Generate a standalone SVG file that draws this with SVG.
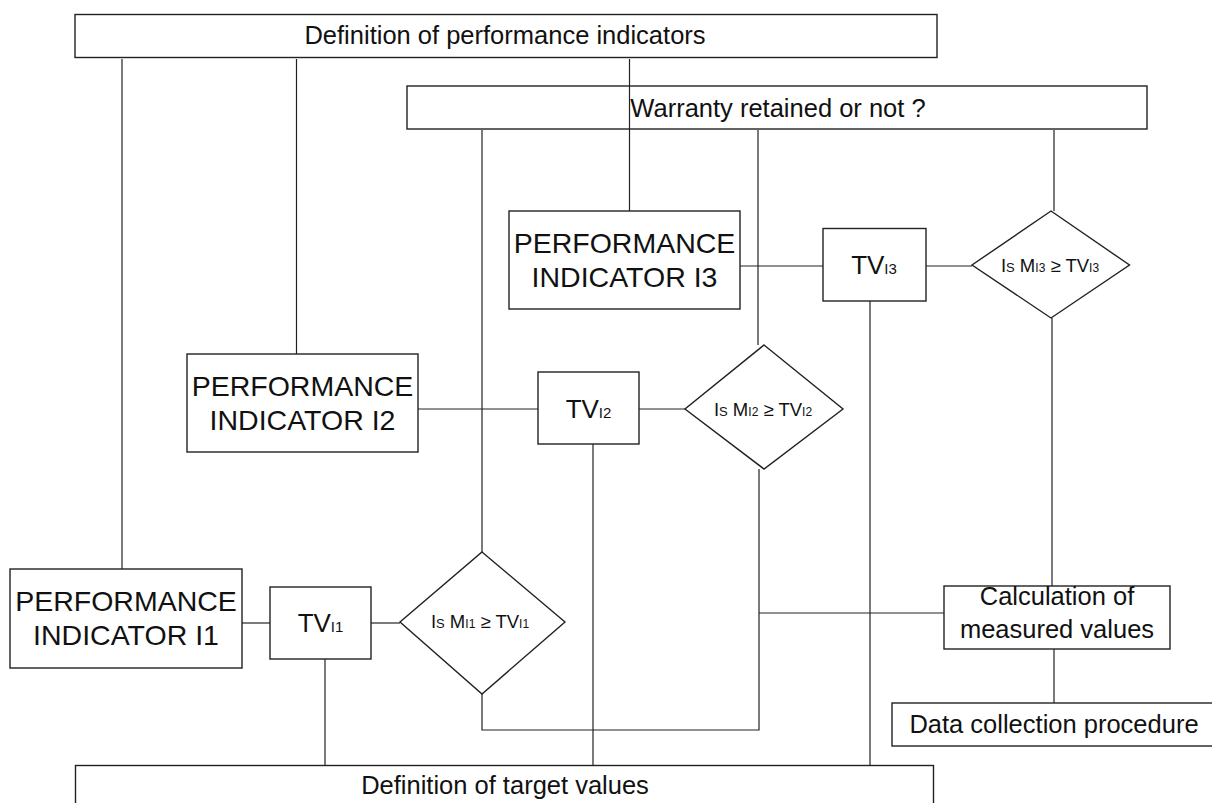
<svg xmlns="http://www.w3.org/2000/svg" width="1212" height="803" viewBox="0 0 1212 803">
<style>
.box{fill:#fff;stroke:#222;stroke-width:1.4}
.ln{fill:none;stroke:#222;stroke-width:1.2}
text{font-family:"Liberation Sans",Arial,sans-serif;fill:#111;text-anchor:middle}
.lbl{font-size:25.5px}
.pi{font-size:28.5px}
.tv{font-size:26px}
.sub{font-size:15px}
.dt{font-size:18.5px}
.ds{font-size:12px}
.sc{font-variant:small-caps}
</style>
<rect width="1212" height="803" fill="#fff"/>
<g id="connectors">
<path class="ln" d="M122,59V569"/>
<path class="ln" d="M296.5,59V354"/>
<path class="ln" d="M629.5,59V211"/>
<path class="ln" d="M482,130V552"/>
<path class="ln" d="M758,130V345"/>
<path class="ln" d="M1054,130V211"/>
<path class="ln" d="M740,266H823"/>
<path class="ln" d="M926,266H972"/>
<path class="ln" d="M870,301V766"/>
<path class="ln" d="M1052,318V586"/>
<path class="ln" d="M418,409H538"/>
<path class="ln" d="M639,409H685"/>
<path class="ln" d="M593,444V766"/>
<path class="ln" d="M759,469V730H482V694"/>
<path class="ln" d="M759,613H944"/>
<path class="ln" d="M242,623H270"/>
<path class="ln" d="M371,623H400"/>
<path class="ln" d="M325,659V766"/>
<path class="ln" d="M1054,649V703"/>
</g>
<g id="def-pi">
<rect class="box" x="75" y="14.5" width="862" height="43"/>
<text class="lbl" x="505" y="44">Definition of performance indicators</text>
</g>
<g id="warranty">
<rect class="box" x="407" y="86" width="740" height="43"/>
<text class="lbl" x="778" y="117">Warranty retained or not ?</text>
</g>
<path class="ln" d="M629.5,86V129"/>
<g id="pi3">
<rect class="box" x="509" y="211" width="231" height="98"/>
<text class="pi" x="624.5" y="252.5">PERFORMANCE</text>
<text class="pi" x="624.5" y="286.5">INDICATOR I3</text>
</g>
<g id="tv3">
<rect class="box" x="823" y="228.5" width="103" height="72.5"/>
<text class="tv" x="874" y="274">TV<tspan class="sub">I3</tspan></text>
</g>
<g id="d3">
<polygon class="box" points="1051,211 1129.5,265 1051,318 972,265"/>
<text class="dt" x="1050" y="272"><tspan class="sc">Is</tspan> M<tspan class="ds">I3</tspan>  ≥  TV<tspan class="ds">I3</tspan></text>
</g>
<g id="pi2">
<rect class="box" x="187" y="354" width="231" height="98"/>
<text class="pi" x="302.5" y="395.5">PERFORMANCE</text>
<text class="pi" x="302.5" y="429.5">INDICATOR I2</text>
</g>
<g id="tv2">
<rect class="box" x="538" y="372" width="101" height="72"/>
<text class="tv" x="588.5" y="417.5">TV<tspan class="sub">I2</tspan></text>
</g>
<g id="d2">
<polygon class="box" points="764,345 843,409 764,469 685,409"/>
<text class="dt" x="763" y="415.5"><tspan class="sc">Is</tspan> M<tspan class="ds">I2</tspan>  ≥  TV<tspan class="ds">I2</tspan></text>
</g>
<g id="pi1">
<rect class="box" x="10" y="569" width="232" height="99"/>
<text class="pi" x="126" y="611">PERFORMANCE</text>
<text class="pi" x="126" y="645">INDICATOR I1</text>
</g>
<g id="tv1">
<rect class="box" x="270" y="587" width="101" height="72"/>
<text class="tv" x="320.5" y="632">TV<tspan class="sub">I1</tspan></text>
</g>
<g id="d1">
<polygon class="box" points="482,552 565,622 482,694 400,622"/>
<text class="dt" x="480" y="628"><tspan class="sc">Is</tspan> M<tspan class="ds">I1</tspan>  ≥  TV<tspan class="ds">I1</tspan></text>
</g>
<g id="calc">
<rect class="box" x="944" y="586" width="226" height="63"/>
<text class="lbl" x="1057" y="605">Calculation of</text>
<text class="lbl" x="1057" y="638">measured values</text>
</g>
<g id="data">
<rect class="box" x="892" y="703" width="330" height="43"/>
<text class="lbl" x="1054" y="733">Data collection procedure</text>
</g>
<g id="def-tv">
<rect class="box" x="75.5" y="765.5" width="858" height="50"/>
<text class="lbl" x="505" y="794">Definition of target values</text>
</g>
</svg>
